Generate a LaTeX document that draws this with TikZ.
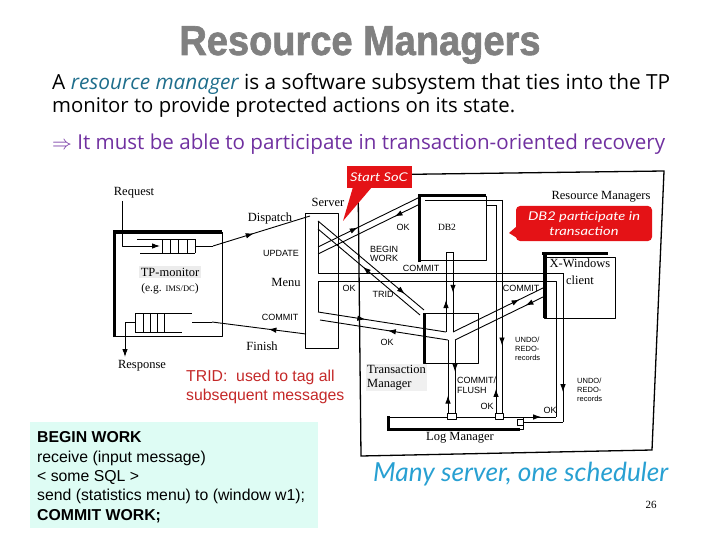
\documentclass[tikz,border=0pt]{standalone}
\usepackage{fontspec}
\usepackage{graphicx}
\usetikzlibrary{arrows.meta,decorations.markings}
\setmainfont{Liberation Serif}
\newfontfamily\arialf{Liberation Sans}
\newfontfamily\titlef{Liberation Sans Bold}[BoldFont={Liberation Sans Bold},BoldFeatures={FakeBold=1.6}]
\newfontfamily\comicf{Open Sans}
\newfontfamily\handf{Lato}
\definecolor{titlegray}{RGB}{128,128,128}
\definecolor{rmteal}{RGB}{31,110,140}
\definecolor{purp}{RGB}{112,48,160}
\definecolor{callred}{RGB}{228,18,22}
\definecolor{tridred}{RGB}{196,40,40}
\definecolor{boxcyan}{RGB}{222,252,244}
\definecolor{handblue}{RGB}{40,160,210}
\begin{document}
\begin{tikzpicture}[x=1pt,y=-1pt,
  ln/.style={line width=0.9pt,line join=round},
  thk/.style={line width=3pt},
  ma/.style={postaction={decorate},decoration={markings,mark=at position #1 with {\arrow{Latex[length=8pt,width=5.5pt]}}}},
  tip/.style={-{Latex[length=8pt,width=5.5pt]}},
  lbl/.style={font=\arialf\fontsize{9}{9.5}\selectfont,inner sep=0pt,align=left},
  slbl/.style={font=\arialf\fontsize{7.5}{8.8}\selectfont,inner sep=0pt,align=left},
  sr/.style={font=\fontsize{12.5}{14}\selectfont,inner sep=0pt,align=left},
  boxtxt/.style={font=\arialf\fontsize{15.8}{19}\selectfont,inner sep=0pt,anchor=base west},
  callout/.style={text=white,font=\handf\itshape\fontsize{10.5}{12.5}\selectfont,inner sep=0pt,align=center}]
\useasboundingbox (0,0) rectangle (720,540);

% ---------- title and text ----------
\node[anchor=base,inner sep=0pt,font=\titlef\bfseries\fontsize{38}{40}\selectfont,text=titlegray] (title) at (360,55) {\scalebox{1}[1.1]{Resource Managers}};
\node[anchor=base west,inner sep=0pt,font=\comicf\fontsize{18}{20}\selectfont] (l1) at (52,90)
  {\resizebox{618pt}{!}{A \textcolor{rmteal}{\itshape resource manager} is a software subsystem that ties into the TP}};
\node[anchor=base west,inner sep=0pt,font=\comicf\fontsize{18}{20}\selectfont] (l2) at (52,113)
  {\resizebox{463pt}{!}{monitor to provide protected actions on its state.}};
\node[anchor=base west,inner sep=0pt,font=\comicf\fontsize{18}{20}\selectfont,text=purp] (l3) at (52,150)
  {\resizebox{613pt}{!}{$\Rightarrow$ It must be able to participate in transaction-oriented recovery}};

% ---------- TP monitor ----------
\draw[thk] (114,337) -- (114,232) -- (222,232);
\draw[ln] (222,232) -- (222,336) -- (114,336);
\draw[ln] (137,239) -- (195,239) (140,253) -- (195,253);
\foreach \x in {162,170,178,187,195} \draw[ln] (\x,239) -- (\x,253);
\draw[ln] (135,313) -- (192,313) (135,332) -- (182,332);
\foreach \x in {135,143,150,157,164} \draw[ln] (\x,313) -- (\x,332);
\node[sr,fill=gray!15,inner sep=1.5pt] (tpm) at (170,272) {TP-monitor};
\node[font=\fontsize{11.5}{13}\selectfont,inner sep=0pt] (tpe) at (170,289) {(e.g. {\fontsize{8.5}{9}\selectfont IMS/DC})};
\node[sr] (reqlbl) at (134,193) {Request};
\node[sr] (reslbl) at (142,366) {Response};
\coordinate (rq0) at (122,201); \coordinate (rq1) at (122,246); \coordinate (rq2) at (160,246);
\draw[ln,tip] (rq0) -- (rq1) -- (rq2);
\coordinate (rs0) at (135,322); \coordinate (rs1) at (125,322); \coordinate (rs2) at (125,357);
\draw[ln,tip] (rs0) -- (rs1) -- (rs2);

% ---------- Server ----------
\draw[ln] (305,213) rectangle (338,348);
\coordinate (dq0) at (195,246); \coordinate (dq1) at (213,246); \coordinate (dsv) at (310,216);
\draw[ln] (dq0) -- (dq1);
\draw[ln,ma=0.42] (dq1) -- (dsv);
\coordinate (fs0) at (306,334); \coordinate (fs1) at (212,322); \coordinate (fs2) at (192,322);
\draw[ln,ma=0.4] (fs0) -- (fs1);
\draw[ln] (fs1) -- (fs2);
\node[sr] (srvlbl) at (328,202) {Server};
\node[sr] (displbl) at (270,218) {Dispatch};
\node[lbl] (updlbl) at (281,253) {UPDATE};
\node[sr] (menulbl) at (286,282) {Menu};
\node[lbl] (comlbl) at (280,317) {COMMIT};
\node[sr] (finlbl) at (262,346) {Finish};

% ---------- resource manager frame ----------
\draw[line width=1.3pt] (358,175) -- (664,171) -- (652,450) -- (361,456) -- cycle;
\node[sr] (rmlbl) at (601,197) {Resource Managers};

% ---------- boxes ----------
\draw[ln] (418,196) rectangle (486,260);
\draw[thk] (419,262) -- (419,196) -- (486,196);
\node[font=\fontsize{9.5}{10}\selectfont,inner sep=0pt] (db2) at (447,227) {DB2};
\draw[ln] (423,313) rectangle (478,363);
\draw[thk] (424,363) -- (424,313);
\draw[ln] (387,417) rectangle (523,429);
\draw[thk] (388,416) -- (388,429) -- (520,429);
\draw[ln] (544,257) rectangle (615,318);
\draw[thk] (542,253) -- (608,253);
\draw[line width=4pt] (545,253) -- (545,318);
\node[sr] (xw1) at (580,263) {X-Windows};
\node[sr] (xw2) at (580,280) {client};
\node[sr,anchor=north west,fill=gray!12,inner sep=1pt] (tmlbl) at (366,364) {Transaction\\Manager};
\node[sr] (loglbl) at (460,438) {Log Manager};

% ---------- Server <-> db2 ----------
\coordinate (A1) at (318,247); \coordinate (A2) at (420,197);
\coordinate (B1) at (318,254); \coordinate (B2) at (420,204);
\draw[ln,ma=0.39] (A1) -- (A2);
\draw[ln,ma=0.25] (B2) -- (B1);
% ---------- Server <-> TM ----------
\coordinate (C1) at (318,221); \coordinate (C2) at (424,310);
\coordinate (D1) at (318,229); \coordinate (D2) at (420,315);
\draw[ln,ma=0.82] (C1) -- (C2);
\draw[ln,ma=0.56] (D2) -- (D1);
\coordinate (E1a) at (318,312); \coordinate (E1b) at (446,332);
\coordinate (E2a) at (320,320); \coordinate (E2b) at (448,340);
\draw[ln,ma=0.37] (E1a) -- (E1b);
\draw[ln,ma=0.47] (E2b) -- (E2a);
% server inner compartments + menu lines
\coordinate (M0) at (318,222); \coordinate (M1) at (318,273); \coordinate (M2) at (563,273); \coordinate (M3) at (563,422); \coordinate (M4) at (523,422);
\draw[ln] (M0) -- (M1) -- (M2);
\draw[ln,ma=0.8] (M2) -- (M3);
\draw[ln] (M3) -- (M4);
\coordinate (N0) at (318,312); \coordinate (N1) at (318,281); \coordinate (N2) at (556,281); \coordinate (N3) at (556,417); \coordinate (N4) at (523,417);
\draw[ln] (N0) -- (N1) -- (N2) -- (N3);
\draw[ln,ma=0.55] (N4) -- (N3);
% ---------- TM <-> X-Windows ----------
\coordinate (F1a) at (453,332); \coordinate (F1b) at (543,288);
\coordinate (F2a) at (455,340); \coordinate (F2b) at (543,297);
\draw[ln,ma=0.74] (F1a) -- (F1b);
\draw[ln,ma=0.2] (F2b) -- (F2a);
% ---------- db2 <-> TM ----------
\coordinate (G1a) at (446,332); \coordinate (G1b) at (446,252);
\coordinate (G2a) at (453,252); \coordinate (G2b) at (453,332);
\draw[ln,ma=0.4] (G1a) -- (G1b);
\draw[ln,ma=0.51] (G2a) -- (G2b);
\draw[ln] (G1b) -- (G2a);
% ---------- TM <-> Log ----------
\coordinate (H1a) at (448,414); \coordinate (H1b) at (448,340);
\coordinate (H2a) at (455,340); \coordinate (H2b) at (455,414);
\draw[ln,ma=0.25] (H1a) -- (H1b);
\draw[ln,ma=0.43] (H2a) -- (H2b);
% ---------- db2 <-> Log ----------
\coordinate (K0) at (425,200); \coordinate (K1) at (502,200); \coordinate (K2) at (502,414);
\draw[ln] (K0) -- (K1);
\draw[ln,ma=0.68] (K1) -- (K2);
\coordinate (L0) at (486,205); \coordinate (L1) at (496,205); \coordinate (L2) at (496,414);
\draw[ln] (L0) -- (L1);
\draw[ln,ma=0.12] (L2) -- (L1);
% small caps on log bar
\draw[ln,fill=white] (447,413) rectangle (456,419);
\draw[ln,fill=white] (495,413) rectangle (503,419);
\draw[ln,fill=white] (517,419) rectangle (523,425);

% ---------- labels ----------
\node[lbl] (ok1) at (403,227) {OK};
\node[lbl,anchor=west] (bw) at (370,254) {BEGIN\\WORK};
\node[lbl] (com2) at (421,268) {COMMIT};
\node[lbl] (ok2) at (349,288) {OK};
\node[lbl] (trid) at (383,294) {TRID};
\node[lbl] (ok3) at (387,342) {OK};
\node[lbl] (com3) at (521,288) {COMMIT};
\node[slbl,anchor=north west] (ur1) at (515,337) {UNDO/\\REDO-\\records};
\node[slbl,anchor=north west] (ur2) at (577,378) {UNDO/\\REDO-\\records};
\node[lbl] (ok4) at (550,410) {OK};
\node[lbl] (ok5) at (487,406) {OK};
\node[lbl,anchor=north west] (cf) at (457,377) {COMMIT/\\FLUSH};

% ---------- callouts ----------
\fill[callred] (347,166) rectangle (412,188);
\fill[callred] (353,187) -- (372,187) -- (343,221) -- cycle;
\node[callout] (soc) at (379,177) {\scalebox{1.4}[1.15]{Start SoC}};
\fill[callred,rounded corners=4pt] (516,206) rectangle (652,241);
\fill[callred] (517,226) -- (517,238) -- (509,233) -- cycle;
\node[callout] (db2c) at (584,217) {\scalebox{1.4}[1.15]{DB2 participate in}};
\node[callout] (db2d) at (584,231) {\scalebox{1.4}[1.15]{transaction}};

% ---------- TRID note ----------
\node[anchor=base west,inner sep=0pt,font=\arialf\fontsize{15.8}{19}\selectfont,text=tridred] (t1) at (186,381) {TRID:\ \ used to tag all};
\node[anchor=base west,inner sep=0pt,font=\arialf\fontsize{15.8}{19}\selectfont,text=tridred] (t2) at (186,400) {subsequent messages};

% ---------- code box ----------
\fill[boxcyan] (30,422) rectangle (318,528);
\node[boxtxt] (c1) at (37,442.5) {\bfseries BEGIN WORK};
\node[boxtxt] (c2) at (37,462) {receive (input message)};
\node[boxtxt] (c3) at (37,481) {< some SQL >};
\node[boxtxt] (c4) at (37,500.5) {send (statistics menu) to (window w1);};
\node[boxtxt] (c5) at (37,520) {\bfseries COMMIT WORK;};

% ---------- footer ----------
\node[anchor=base west,inner sep=0pt,font=\handf\itshape\fontsize{18}{20}\selectfont,text=handblue] (many) at (373,481)
  {\resizebox{295pt}{!}{Many server, one scheduler}};
\node[inner sep=0pt,font=\fontsize{11}{12}\selectfont] (pg) at (651,505) {26};
\end{tikzpicture}
\end{document}
